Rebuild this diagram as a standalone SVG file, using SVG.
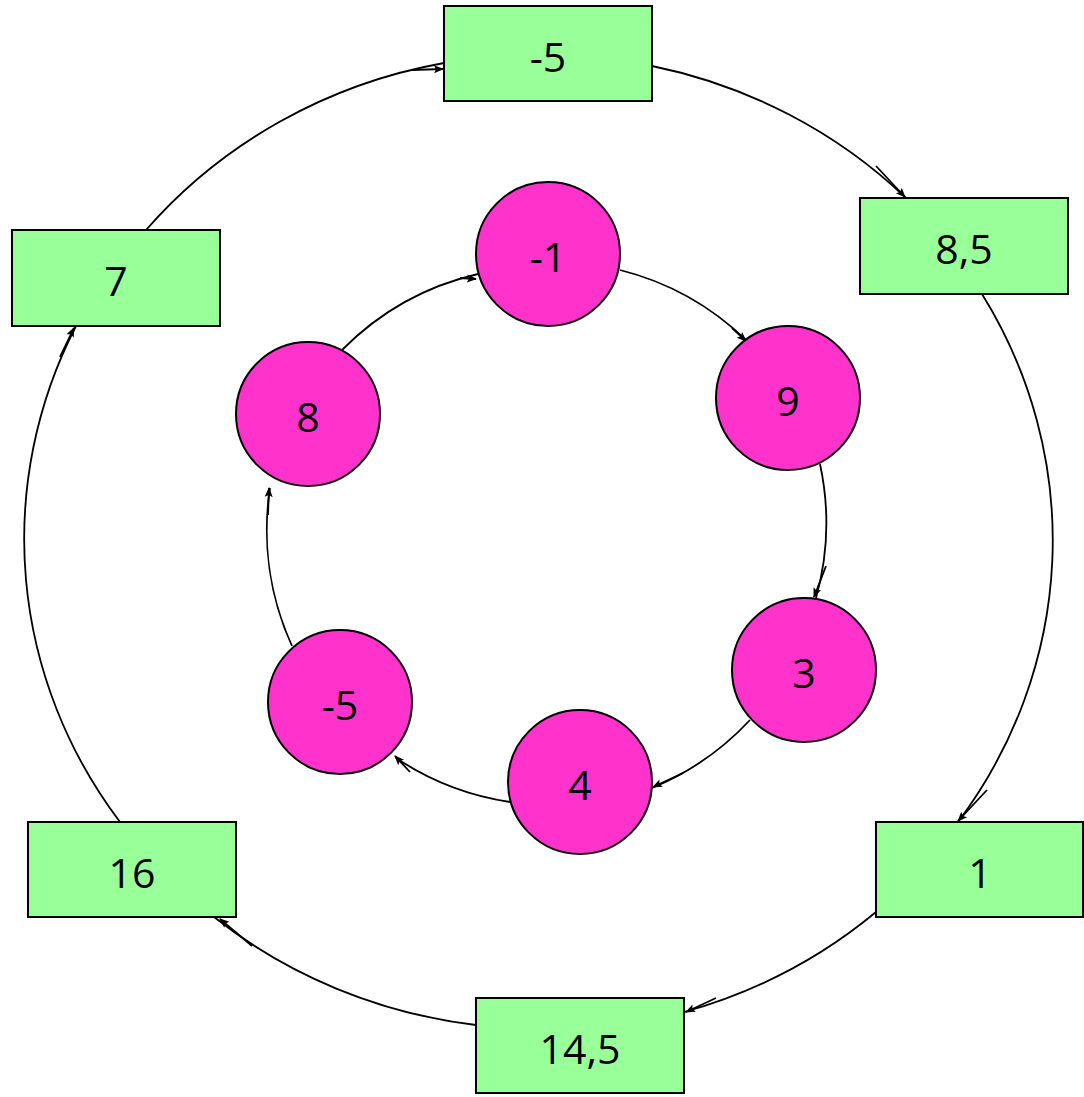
<svg xmlns="http://www.w3.org/2000/svg" width="1084" height="1097" viewBox="0 0 1084 1097">
<style>
.box{fill:#99FF99;stroke:#000;stroke-width:2}
.circ{fill:#FF33CC;stroke:#000;stroke-width:2}
.lbl{font-family:"Open Sans","Liberation Sans",sans-serif;font-size:41px;fill:#000;text-anchor:middle;dominant-baseline:central}
.arc{fill:none;stroke:#000;stroke-width:1.8}
.tip{fill:none;stroke:#000;stroke-width:1.8;marker-end:url(#ah)}
</style>
<defs>
<marker id="ah" viewBox="0 0 10 10" refX="9" refY="5" markerWidth="14" markerHeight="10" markerUnits="userSpaceOnUse" orient="auto">
<path d="M0,1 L10,5 L0,9 L2,5 Z" fill="#000"/>
</marker>
</defs>
<rect width="1084" height="1097" fill="#fff"/>
<g id="connectors">
<path class="arc" d="M146,230 A510 485 0 0 1 444,63"/>
<path class="arc" d="M652,66 A510 485 0 0 1 906,198"/>
<path class="arc" d="M982,294 A510 485 0 0 1 958,822"/>
<path class="arc" d="M876,912 A510 485 0 0 1 684,1012"/>
<path class="arc" d="M476,1025 A510 485 0 0 1 214,917"/>
<path class="arc" d="M120,822 A510 485 0 0 1 76,326"/>
<line class="tip" x1="412" y1="70" x2="443" y2="69"/>
<line class="tip" x1="876" y1="166" x2="905" y2="197"/>
<line class="tip" x1="987" y1="790" x2="958" y2="821"/>
<line class="tip" x1="716" y1="998" x2="686" y2="1012"/>
<line class="tip" x1="252" y1="946" x2="220" y2="919"/>
<line class="tip" x1="60" y1="357" x2="74" y2="328"/>
<path class="arc" d="M342,350 A280 280 0 0 1 478,274"/>
<path class="arc" d="M620,270 A280 280 0 0 1 746,340"/>
<path class="arc" d="M820,464 A280 280 0 0 1 816,598"/>
<path class="arc" d="M750,720 A280 280 0 0 1 652,788"/>
<path class="arc" d="M510,802 A280 280 0 0 1 396,758"/>
<path class="arc" d="M292,646 A280 280 0 0 1 270,488"/>
<line class="tip" x1="460" y1="278" x2="476" y2="279"/>
<line class="tip" x1="732" y1="328" x2="746" y2="341"/>
<line class="tip" x1="826" y1="566" x2="814" y2="597"/>
<line class="tip" x1="683" y1="773" x2="653" y2="787"/>
<line class="tip" x1="410" y1="772" x2="395" y2="756"/>
<line class="tip" x1="268" y1="515" x2="269" y2="488"/>
</g>
<g id="box-m5"><rect class="box" x="444" y="6" width="208" height="95"/><text class="lbl" x="548" y="56">-5</text></g>
<g id="box-85"><rect class="box" x="860" y="198" width="208" height="96"/><text class="lbl" x="964" y="248">8,5</text></g>
<g id="box-1"><rect class="box" x="876" y="822" width="207" height="95"/><text class="lbl" x="980" y="872">1</text></g>
<g id="box-145"><rect class="box" x="476" y="998" width="208" height="95"/><text class="lbl" x="580" y="1048">14,5</text></g>
<g id="box-16"><rect class="box" x="28" y="822" width="208" height="95"/><text class="lbl" x="132" y="872">16</text></g>
<g id="box-7"><rect class="box" x="12" y="230" width="208" height="96"/><text class="lbl" x="116" y="280">7</text></g>
<g id="c-m1"><circle class="circ" cx="548" cy="254" r="72"/><text class="lbl" x="548" y="256">-1</text></g>
<g id="c-9"><circle class="circ" cx="788" cy="398" r="72"/><text class="lbl" x="788" y="400">9</text></g>
<g id="c-3"><circle class="circ" cx="804" cy="670" r="72"/><text class="lbl" x="804" y="672">3</text></g>
<g id="c-4"><circle class="circ" cx="580" cy="782" r="72"/><text class="lbl" x="580" y="784">4</text></g>
<g id="c-m5"><circle class="circ" cx="340" cy="702" r="72"/><text class="lbl" x="340" y="704">-5</text></g>
<g id="c-8"><circle class="circ" cx="308" cy="414" r="72"/><text class="lbl" x="308" y="416">8</text></g>
</svg>
